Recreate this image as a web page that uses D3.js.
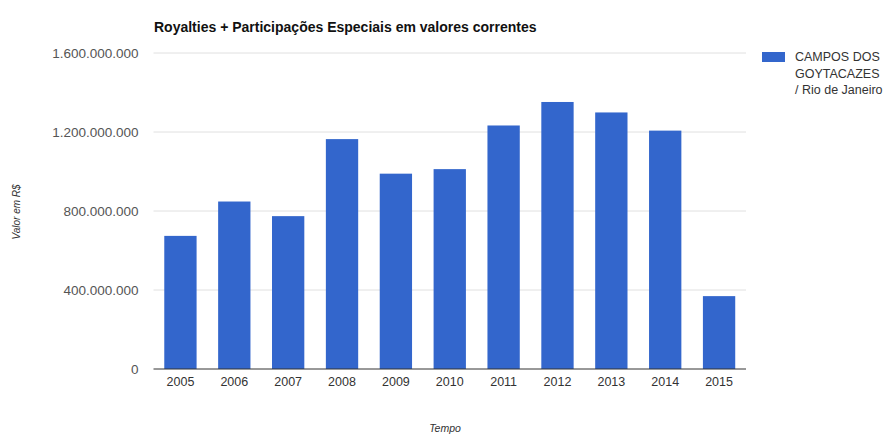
<!DOCTYPE html>
<html>
<head>
<meta charset="utf-8">
<script src="https://cdn.jsdelivr.net/npm/d3@7"></script>
<style>
  body { margin: 0; background: #fff; overflow: hidden; }
  text { font-family: "Liberation Sans", Arial, sans-serif; }
</style>
</head>
<body>
<div id="chart-area"></div>
<script>
var years = ["2005", "2006", "2007", "2008", "2009", "2010", "2011", "2012", "2013", "2014", "2015"];
var values = [674e6, 848e6, 774e6, 1164e6, 989e6, 1012e6, 1233e6, 1352e6, 1299e6, 1207e6, 369e6];
var yTicks = [0, 400e6, 800e6, 1200e6, 1600e6];
var legendLines = ["CAMPOS DOS", "GOYTACAZES", "/ Rio de Janeiro"];

var width = 896, height = 436;
var margin = {top: 53, left: 153.5, right: 150, bottom: 67};
var plotW = 746 - margin.left, plotH = 369 - margin.top;

var svg = d3.select("#chart-area").append("svg")
    .attr("width", width)
    .attr("height", height);

var g = svg.append("g")
    .attr("transform", "translate(" + margin.left + "," + margin.top + ")");

var xScale = d3.scaleBand().domain(years).range([0, plotW]).paddingInner(0.4).paddingOuter(0.2);
var yScale = d3.scaleLinear().domain([0, 1600e6]).range([plotH, 0]);

var fmt = function(v) {
    return d3.format(",")(v).replace(/,/g, ".");
};

// gridlines
g.selectAll("line.grid").data(yTicks.slice(1)).enter().append("line")
    .attr("class", "grid")
    .attr("x1", 0).attr("x2", plotW)
    .attr("y1", function(d) { return yScale(d); })
    .attr("y2", function(d) { return yScale(d); })
    .style("stroke", "#e0e0e0");

var yAxis = g.append("g").call(d3.axisLeft(yScale).tickValues(yTicks).tickFormat(fmt).tickSize(0).tickPadding(15));
yAxis.select(".domain").remove();
yAxis.selectAll("text").style("font-size", "13.5px").style("fill", "#555");

g.selectAll("rect.bar").data(values).enter().append("rect")
    .attr("class", "bar")
    .attr("x", function(d, i) { return xScale(years[i]); })
    .attr("width", xScale.bandwidth())
    .attr("y", function(d) { return yScale(d); })
    .attr("height", function(d) { return plotH - yScale(d); })
    .style("fill", "#3366cc");

// baseline
g.append("line")
    .attr("x1", 0).attr("x2", plotW)
    .attr("y1", yScale(0)).attr("y2", yScale(0))
    .style("stroke", "#333");

var xAxis = g.append("g").attr("transform", "translate(0," + plotH + ")")
    .call(d3.axisBottom(xScale).tickSize(0).tickPadding(8));
xAxis.select(".domain").remove();
xAxis.selectAll("text").style("font-size", "12.5px").style("fill", "#333");

svg.append("text")
    .attr("x", 154).attr("y", 32)
    .style("font-size", "14px").style("font-weight", "bold").style("fill", "#111")
    .text("Royalties + Participações Especiais em valores correntes");

svg.append("text")
    .attr("transform", "translate(20,212) rotate(-90)")
    .attr("text-anchor", "middle")
    .style("font-size", "10px").style("font-style", "italic").style("fill", "#333")
    .text("Valor em R$");

svg.append("text")
    .attr("x", 445).attr("y", 432)
    .attr("text-anchor", "middle")
    .style("font-size", "10.5px").style("font-style", "italic").style("fill", "#333")
    .text("Tempo");

// legend
svg.append("rect")
    .attr("x", 762).attr("y", 52).attr("width", 23).attr("height", 10)
    .style("fill", "#3366cc");

svg.selectAll("text.legend").data(legendLines).enter().append("text")
    .attr("class", "legend")
    .attr("x", 795)
    .attr("y", function(d, i) { return 61 + i * 16.5; })
    .style("font-size", "12.5px").style("fill", "#333")
    .text(function(d) { return d; });
</script>
</body>
</html>
